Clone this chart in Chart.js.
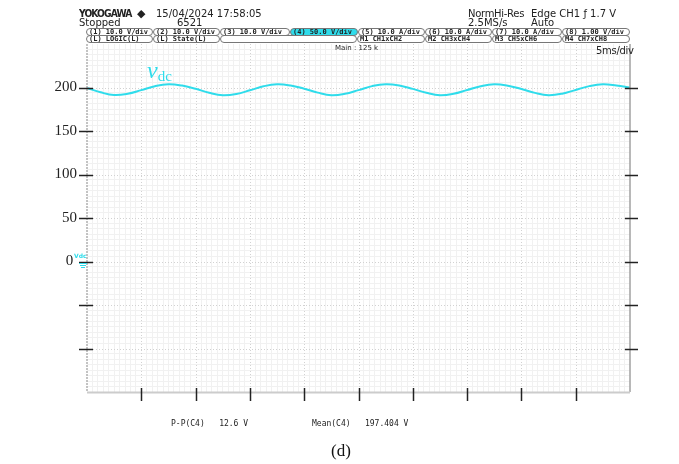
<!DOCTYPE html>
<html>
<head>
<meta charset="utf-8">
<script src="https://cdn.jsdelivr.net/npm/chart.js@4.4.0/dist/chart.umd.min.js"></script>
<style>
body { margin: 0; background: #fff; }
#wrap { position: relative; width: 679px; height: 464px; overflow: hidden; }
#scope { position: absolute; left: 0; top: 0; }
.t { position: absolute; font-family: "DejaVu Sans", sans-serif; color: #222; white-space: nowrap; line-height: 1; }
.box { position: absolute; height: 6px; border: 1px solid #777; border-radius: 4px; box-sizing: content-box;
       font: bold 7px "DejaVu Sans Mono", monospace; line-height: 6px; color: #222; padding-left: 2px; white-space: nowrap; overflow: hidden; }
.box.on { background: #2fdceb; }
.mono { font-family: "DejaVu Sans Mono", monospace; }
</style>
</head>
<body>
<div id="wrap">
  <canvas id="scope" width="679" height="464"></canvas>

  <div class="t" style="left:79px;top:9px;font-size:10px;font-weight:bold;letter-spacing:-1px;transform:scaleX(0.92);transform-origin:left;">YOKOGAWA</div>
  <div class="t" style="left:137px;top:8px;font-size:11px;">&#9670;</div>
  <div class="t" style="left:156px;top:9px;font-size:10px;">15/04/2024 17:58:05</div>
  <div class="t" style="left:79px;top:18px;font-size:10px;">Stopped</div>
  <div class="t" style="left:177px;top:18px;font-size:10px;">6521</div>
  <div class="t" style="left:468px;top:9px;font-size:10px;letter-spacing:-0.3px;">NormHi-Res</div>
  <div class="t" style="left:468px;top:18px;font-size:10px;">2.5MS/s</div>
  <div class="t" style="left:531px;top:9px;font-size:10px;">Edge CH1 &#402; 1.7 V</div>
  <div class="t" style="left:531px;top:18px;font-size:10px;">Auto</div>

  <div id="boxes"></div>

  <div class="t" style="left:335px;top:45px;font-size:7px;">Main : 125 k</div>
  <div class="t" style="left:596px;top:46px;font-size:10px;letter-spacing:-0.3px;">5ms/div</div>

  <div class="t" style="left:147px;top:58px;color:#2fdceb;font-family:'Liberation Serif',serif;">
    <span style="font-size:24px;font-style:italic;">v</span><span style="font-size:15px;position:relative;top:3px;">dc</span>
  </div>

  <div class="t mono" style="left:171px;top:420px;font-size:8px;">P-P(C4)&nbsp;&nbsp;&nbsp;12.6 V</div>
  <div class="t mono" style="left:312px;top:420px;font-size:8px;">Mean(C4)&nbsp;&nbsp;&nbsp;197.404 V</div>
  <div class="t" style="left:331px;top:442px;font-size:17px;font-family:'Liberation Serif',serif;color:#111;">(d)</div>
</div>

<script>
// captured waveform (C4, vdc), time in ms, volts
const timeMs = [0, 1.25, 2.5, 3.75, 5, 6.25, 7.5, 8.75, 10, 11.25,
                12.5, 13.75, 15, 16.25, 17.5, 18.75, 20, 21.25, 22.5, 23.75,
                25, 26.25, 27.5, 28.75, 30, 31.25, 32.5, 33.75, 35, 36.25,
                37.5, 38.75, 40, 41.25, 42.5, 43.75, 45, 46.25, 47.5, 48.75, 50];
const vdc = [199.5, 194.5, 191.3, 192.8, 197.0, 201.5, 203.7, 202.2, 198.5, 194.0,
             191.2, 192.6, 196.8, 201.4, 203.7, 202.3, 198.6, 194.1, 191.1, 192.7,
             197.0, 201.6, 203.8, 202.4, 198.4, 193.9, 191.1, 192.8, 197.1, 201.5,
             203.7, 202.1, 198.3, 193.8, 191.2, 192.9, 197.2, 201.6, 203.8, 202.4, 200.0];

const yLabeled = [200, 150, 100, 50, 0];
const yMajor = [-100, -50, 0, 50, 100, 150, 200];
const xMajor = [5, 10, 15, 20, 25, 30, 35, 40, 45];

const chRow1 = ['(1) 10.0 V/div', '(2) 10.0 V/div', '(3) 10.0 V/div', '(4) 50.0 V/div',
                '(5) 10.0 A/div', '(6) 10.0 A/div', '(7) 10.0 A/div', '(8) 1.00 V/div'];
const chRow2 = ['(L) LOGIC(L)', '(L) State(L)', '', 'M1 CH1xCH2', 'M2 CH3xCH4', 'M3 CH5xCH6', 'M4 CH7xCH8'];

const cyan = '#2fdceb';

// header boxes
const boxes = document.getElementById('boxes');
const row1X = [86, 153, 220, 290, 358, 425, 492, 562, 630];
chRow1.forEach((txt, i) => {
    const d = document.createElement('div');
    d.className = 'box' + (i === 3 ? ' on' : '');
    d.style.left = row1X[i] + 'px';
    d.style.top = '28px';
    d.style.width = (row1X[i + 1] - row1X[i] - 4) + 'px';
    d.textContent = txt;
    boxes.appendChild(d);
});
const row2X = [86, 153, 220, 357, 425, 492, 562, 630];
chRow2.forEach((txt, i) => {
    const d = document.createElement('div');
    d.className = 'box';
    d.style.left = row2X[i] + 'px';
    d.style.top = '35px';
    d.style.width = (row2X[i + 1] - row2X[i] - 4) + 'px';
    d.textContent = txt;
    boxes.appendChild(d);
});

const isMajor = (v, step) => Math.abs(v / step - Math.round(v / step)) < 1e-6;

const scopeFrame = {
    id: 'scopeFrame',
    beforeDatasetsDraw(chart) {
        const { ctx, chartArea: a, scales: { x, y } } = chart;
        ctx.save();
        ctx.strokeStyle = '#d2d2d2';
        ctx.lineWidth = 1;
        ctx.setLineDash([1, 2]);
        xMajor.forEach(v => {
            const px = Math.round(x.getPixelForValue(v)) + 0.5;
            ctx.beginPath(); ctx.moveTo(px, a.top); ctx.lineTo(px, a.bottom); ctx.stroke();
        });
        yMajor.concat([200]).forEach(v => {
            const py = Math.round(y.getPixelForValue(v)) + 0.5;
            ctx.beginPath(); ctx.moveTo(a.left, py); ctx.lineTo(a.right, py); ctx.stroke();
        });
        ctx.restore();
    },
    afterDraw(chart) {
        const { ctx, chartArea: a, scales: { x, y } } = chart;
        ctx.save();
        // frame
        ctx.lineWidth = 1.5;
        ctx.strokeStyle = '#b0b0b0';
        ctx.setLineDash([2, 1]);
        ctx.beginPath(); ctx.moveTo(a.left, a.top); ctx.lineTo(a.left, a.bottom); ctx.stroke();
        ctx.setLineDash([]);
        ctx.strokeStyle = '#a0a0a0';
        ctx.beginPath(); ctx.moveTo(a.right, a.top); ctx.lineTo(a.right, a.bottom); ctx.stroke();
        ctx.strokeStyle = '#cccccc';
        ctx.lineWidth = 2;
        ctx.beginPath(); ctx.moveTo(a.left, a.bottom + 0.5); ctx.lineTo(a.right, a.bottom + 0.5); ctx.stroke();

        // division marks
        ctx.strokeStyle = '#222';
        ctx.lineWidth = 1.5;
        yMajor.forEach(v => {
            const py = Math.round(y.getPixelForValue(v)) + 0.5;
            ctx.beginPath(); ctx.moveTo(a.left - 8, py); ctx.lineTo(a.left + 6, py); ctx.stroke();
            ctx.beginPath(); ctx.moveTo(a.right - 5, py); ctx.lineTo(a.right + 8, py); ctx.stroke();
        });
        xMajor.forEach(v => {
            const px = Math.round(x.getPixelForValue(v)) + 0.5;
            ctx.beginPath(); ctx.moveTo(px, a.bottom - 4); ctx.lineTo(px, a.bottom + 9); ctx.stroke();
        });

        // channel ground marker
        const y0 = Math.round(y.getPixelForValue(0));
        ctx.fillStyle = cyan;
        ctx.font = 'bold 6px "DejaVu Sans"';
        ctx.textBaseline = 'alphabetic';
        ctx.fillText('Vdc', a.left - 13, y0 - 4);
        ctx.strokeStyle = cyan;
        ctx.lineWidth = 1;
        [[0, 8], [2, 6], [4, 4]].forEach(([dy, w]) => {
            ctx.beginPath(); ctx.moveTo(a.left - 4 - w / 2, y0 + dy + 1.5); ctx.lineTo(a.left - 4 + w / 2, y0 + dy + 1.5); ctx.stroke();
        });
        ctx.restore();
    }
};

new Chart(document.getElementById('scope'), {
    type: 'line',
    data: {
        datasets: [{
            label: 'vdc',
            data: timeMs.map((t, i) => ({ x: t, y: vdc[i] })),
            borderColor: cyan,
            borderWidth: 2,
            pointRadius: 0,
            tension: 0.4,
            fill: false
        }]
    },
    options: {
        responsive: false,
        animation: false,
        layout: { padding: { left: 0, top: 44, right: 49, bottom: 72 } },
        plugins: { legend: { display: false }, tooltip: { enabled: false } },
        scales: {
            x: {
                type: 'linear',
                min: 0,
                max: 50,
                afterFit(scale) { scale.height = 0; },
                ticks: { display: false, stepSize: 0.5, autoSkip: false, maxTicksLimit: 200 },
                grid: {
                    drawTicks: false,
                    lineWidth: 1,
                    color: c => (c.tick && isMajor(c.tick.value, 5)) ? 'rgba(0,0,0,0)' : '#f1f1f1'
                },
                border: { display: false }
            },
            y: {
                min: -150,
                max: 250,
                afterFit(scale) { scale.width = 87; },
                ticks: {
                    stepSize: 6.25,
                    autoSkip: false,
                    maxTicksLimit: 200,
                    padding: 10,
                    color: '#222',
                    font: { family: 'Liberation Serif', size: 15 },
                    callback: v => {
                        const hit = yLabeled.find(l => Math.abs(l - v) < 1e-6);
                        if (hit === undefined) return '';
                        return hit === 0 ? '0 ' : String(hit);
                    }
                },
                grid: {
                    drawTicks: false,
                    lineWidth: 1,
                    color: c => (c.tick && isMajor(c.tick.value, 50)) ? 'rgba(0,0,0,0)' : '#f1f1f1'
                },
                border: { display: false }
            }
        }
    },
    plugins: [scopeFrame]
});
</script>
</body>
</html>
